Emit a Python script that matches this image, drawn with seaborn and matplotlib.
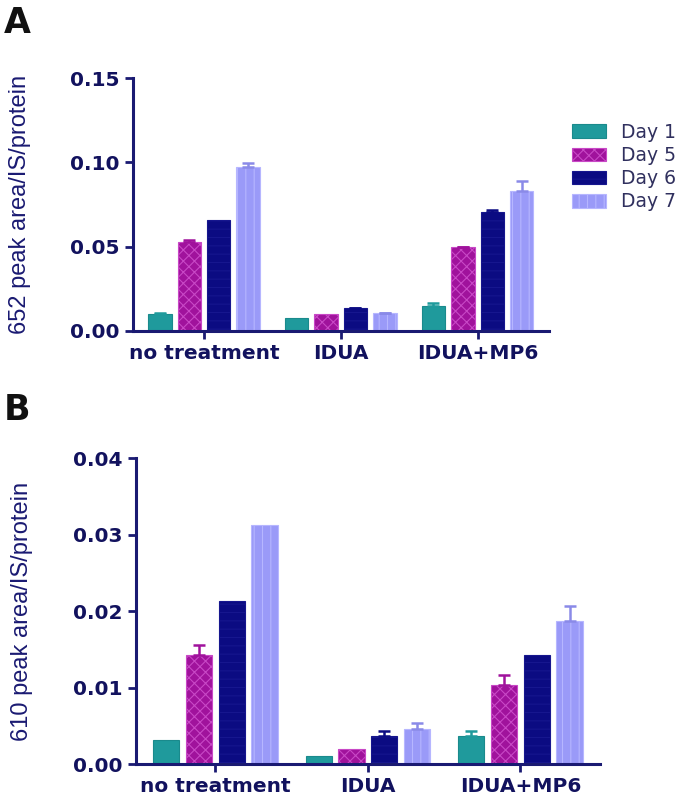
import numpy as np
import pandas as pd
import seaborn as sns
import matplotlib
matplotlib.use("Agg")
import matplotlib.pyplot as plt
from matplotlib.patches import Patch

# ---- data ----
treatments = ["no treatment", "IDUA", "IDUA+MP6"]
days = ["Day 1", "Day 5", "Day 6", "Day 7"]

# Panel A: 652 peak area/IS/protein  (rows = treatment, cols = day)
a_day1 = [0.0103, 0.0079, 0.0148]
a_day5 = [0.0526, 0.0100, 0.0496]
a_day6 = [0.0658, 0.0134, 0.0708]
a_day7 = [0.0975, 0.0105, 0.0830]
a_err1 = [0.0003, 0.0000, 0.0016]
a_err5 = [0.0015, 0.0000, 0.0003]
a_err6 = [0.0000, 0.0004, 0.0007]
a_err7 = [0.0024, 0.0003, 0.0060]

# Panel B: 610 peak area/IS/protein
b_day1 = [0.0032, 0.0011, 0.0036]
b_day5 = [0.0142, 0.0020, 0.0103]
b_day6 = [0.0213, 0.0036, 0.0142]
b_day7 = [0.0313, 0.0046, 0.0187]
b_err1 = [0.0000, 0.0000, 0.0007]
b_err5 = [0.0013, 0.0000, 0.0013]
b_err6 = [0.0000, 0.0007, 0.0000]
b_err7 = [0.0000, 0.0007, 0.0020]

a_yticks = [0.00, 0.05, 0.10, 0.15]
b_yticks = [0.00, 0.01, 0.02, 0.03, 0.04]

colors = ["#1f9a9c", "#a0129c", "#0b0b82", "#9a9af8"]
hatch_colors = ["#1a8a8c", "#c848c6", "#16168e", "#b6b6ff"]
hatches = [None, "xxx", "--", "||"]
err_colors = ["#1f9a9c", "#a0129c", "#0b0b82", "#8a8ae8"]
navy = "#1a1a72"

sns.set_style("ticks")
plt.rcParams["font.family"] = ["DejaVu Sans"]
plt.rcParams["hatch.linewidth"] = 0.8


def make_df(vals):
    rows = []
    for d, v in zip(days, vals):
        for t, x in zip(treatments, v):
            rows.append({"treatment": t, "day": d, "value": x})
    return pd.DataFrame(rows)


fig = plt.figure(figsize=(6.85, 7.97), dpi=100)
axA = fig.add_axes([0.194, 0.5847, 0.607, 0.3174])
axB = fig.add_axes([0.1985, 0.0414, 0.677, 0.3839])


def draw(ax, vals, errs, yticks, ylab, fmt, labx):
    df = make_df(vals)
    sns.barplot(data=df, x="treatment", y="value", hue="day", order=treatments,
                hue_order=days, palette=colors, errorbar=None, width=0.86,
                gap=0.2, legend=False, ax=ax, saturation=1)
    bar_conts = list(ax.containers)
    for i, cont in enumerate(bar_conts):
        for j, p in enumerate(cont.patches):
            p.set_edgecolor(hatch_colors[i])
            p.set_linewidth(0.8)
            if hatches[i]:
                p.set_hatch(hatches[i])
            e = errs[i][j]
            if e > 0:
                xc = p.get_x() + p.get_width() / 2
                ax.errorbar([xc], [p.get_height()], yerr=[[0], [e]], fmt="none",
                            ecolor=err_colors[i],
                            elinewidth=1.8, capsize=4.5, capthick=1.8, zorder=1)
    ax.set_ylim(yticks[0], yticks[-1])
    ax.set_yticks(yticks)
    ax.set_yticklabels([fmt.format(t) for t in yticks])
    ax.set_xlim(-0.52, 2.52)
    ax.set_xlabel("")
    ax.set_ylabel(ylab, fontsize=17, color=navy, family="Liberation Sans",
                  va="center")
    ax.yaxis.set_label_coords(labx, 0.5)
    sns.despine(ax=ax)
    for s in ["left", "bottom"]:
        ax.spines[s].set_color(navy)
        ax.spines[s].set_linewidth(2.2)
    ax.tick_params(axis="both", colors=navy, width=2, length=6,
                   labelsize=14.5)
    for lab in ax.get_xticklabels() + ax.get_yticklabels():
        lab.set_fontweight("bold")
        lab.set_color("#12125e")


draw(axA, [a_day1, a_day5, a_day6, a_day7], [a_err1, a_err5, a_err6, a_err7],
     a_yticks, "652 peak area/IS/protein", "{:.2f}", (20 - 133) / 416)
draw(axB, [b_day1, b_day5, b_day6, b_day7], [b_err1, b_err5, b_err6, b_err7],
     b_yticks, "610 peak area/IS/protein", "{:.2f}", (22 - 136) / 464)

handles = [Patch(facecolor=c, edgecolor=hc, hatch=h, linewidth=0.8)
           for c, hc, h in zip(colors, hatch_colors, hatches)]
fig.legend(handles, days, loc="upper left", bbox_to_anchor=(0.811, 0.867),
           frameon=False, fontsize=13.5, handlelength=1.8, handleheight=0.75,
           labelspacing=0.22, handletextpad=0.8, labelcolor="#30305e")

fig.text(0.005, 0.992, "A", fontsize=25, fontweight="bold", va="top", ha="left",
         color="#111111")
fig.text(0.005, 0.507, "B", fontsize=25, fontweight="bold", va="top", ha="left",
         color="#111111")

fig.savefig("out.png", dpi=100)
